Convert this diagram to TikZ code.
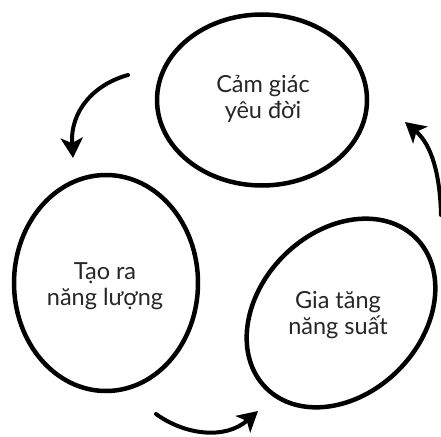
\documentclass[tikz,border=0pt]{standalone}
\usepackage{fontspec}
\setmainfont{Lato}
\usetikzlibrary{shapes.geometric,arrows.meta}
\begin{document}
\begin{tikzpicture}[x=1pt,y=-1pt,
  blob/.style={draw=black,line width=4.5pt,ellipse,inner sep=0pt},
  lbl/.style={align=center,font=\fontsize{23.5}{26}\selectfont,text=black!85},
  conn/.style={line width=4pt,line cap=round,-{Stealth[length=20pt,width=22pt,inset=5pt]}}]
\useasboundingbox (0,0) rectangle (441,436);
\node[blob,minimum width=210pt,minimum height=171pt] (top) at (262,100) {};
\node[lbl] (toptxt) at (263,99) {Cảm giác\\yêu đời};
\node[blob,minimum width=184pt,minimum height=216pt] (left) at (106,283) {};
\node[lbl] (lefttxt) at (105,286) {Tạo ra\\năng lượng};
\node[blob,minimum width=212pt,minimum height=162pt,rotate=45] (right) at (341,313) {};
\node[lbl] (righttxt) at (338,315) {Gia tăng\\năng suất};
\coordinate (a1s) at (128,75);
\coordinate (a1e) at (73,158);
\coordinate (a2s) at (441,215);
\coordinate (a2e) at (405,122);
\coordinate (a3s) at (156,414);
\coordinate (a3e) at (258,411);
\draw[conn] (a1s) .. controls (95,84) and (70,110) .. (a1e);
\draw[conn] (a2s) .. controls (440,175) and (432,145) .. (a2e);
\draw[conn] (a3s) .. controls (185,435) and (225,440) .. (a3e);
\end{tikzpicture}
\end{document}
